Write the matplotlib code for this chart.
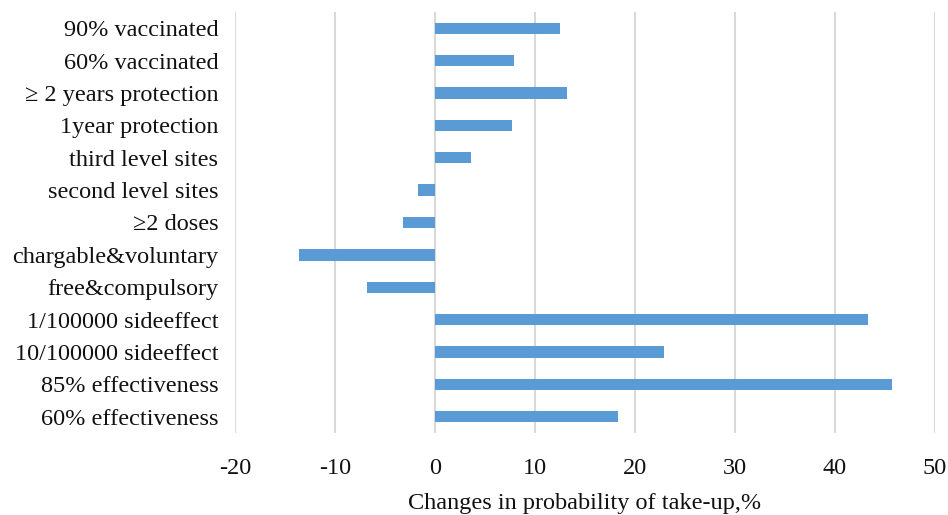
import matplotlib.pyplot as plt
import numpy as np

# categories from top to bottom
labels = ['90% vaccinated', '60% vaccinated', '\u2265 2 years protection', '1year protection',
          'third level sites', 'second level sites', '\u22652 doses', 'chargable&voluntary',
          'free&compulsory', '1/100000 sideeffect', '10/100000 sideeffect',
          '85% effectiveness', '60% effectiveness']
values = [12.5, 7.9, 13.2, 7.7, 3.6, -1.7, -3.2, -13.6, -6.8, 43.3, 22.9, 45.7, 18.3]
xticks = [-20, -10, 0, 10, 20, 30, 40, 50]

plt.rcParams['font.family'] = ['Liberation Serif', 'DejaVu Serif']

fig = plt.figure(figsize=(9.48, 5.15), dpi=100)
ax = fig.add_axes([235 / 948, 1 - 433 / 515, 700 / 948, 421 / 515])

y = np.arange(len(labels))
ax.barh(y, values, height=0.35, color='#5b9bd5', zorder=3)

ax.set_ylim(len(labels) - 0.5, -0.5)
ax.set_xlim(-20, 50)
ax.set_xticks(xticks)
ax.set_xticklabels([str(t) for t in xticks])
ax.set_yticks(y)
ax.set_yticklabels(labels)

ax.grid(axis='x', color='#d9d9d9', linewidth=1.5, zorder=0)
for s in ax.spines.values():
    s.set_visible(False)
ax.tick_params(axis='both', length=0, labelsize=17.5, colors='#111111')
ax.tick_params(axis='y', pad=12)
ax.tick_params(axis='x', pad=18)
# reference cuts this label at the bottom edge; keep it just inside
ax.set_xlabel('Changes in probability of take-up,%', fontsize=17.5, color='#111111', labelpad=10)

fig.savefig('out.png', dpi=100)
